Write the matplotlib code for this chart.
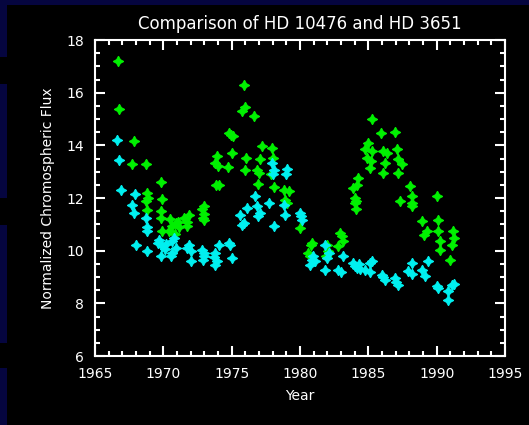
import matplotlib
matplotlib.use('Agg')
from matplotlib import pyplot as plt
from matplotlib.patches import Rectangle
from matplotlib.ticker import MultipleLocator

# HD 10476 / HD 3651
yr_green = [1966.65, 1966.77, 1967.85, 1967.68, 1968.7, 1968.8, 1968.85, 1968.8, 1968.75,
            1969.85, 1969.88, 1969.8, 1969.8, 1969.92,
            1970.5, 1970.6, 1970.45, 1970.9, 1970.85, 1971.1, 1971.15,
            1971.5, 1971.75, 1971.9, 1971.7,
            1972.8, 1972.95, 1973.0, 1973.0, 1972.9,
            1973.9, 1973.75, 1974.0, 1973.85, 1974.05,
            1974.78, 1975.1, 1974.95, 1974.7, 1975.03,
            1975.88, 1976.0, 1975.76, 1976.66, 1976.07, 1976.0,
            1977.2, 1977.1, 1976.85, 1977.0, 1976.95,
            1977.95, 1978.03, 1977.85, 1978.1,
            1978.8, 1979.16, 1978.92, 1979.04,
            1980.0, 1980.87, 1980.8, 1980.6, 1980.75,
            1981.97, 1982.08, 1981.9,
            1982.93, 1983.1, 1983.18, 1982.8,
            1984.27, 1984.15, 1983.9, 1984.03, 1984.1, 1984.03, 1984.1,
            1985.25, 1985.0, 1984.76, 1984.88, 1985.12, 1985.3, 1985.2,
            1985.93, 1986.1, 1986.4, 1986.22, 1986.1,
            1986.95, 1987.07, 1987.2, 1987.44, 1987.2,
            1987.31, 1988.04, 1988.17, 1988.2, 1988.17,
            1988.9, 1989.26, 1989.1,
            1989.99, 1990.1, 1990.1, 1990.23, 1990.23,
            1991.2, 1991.3, 1991.1, 1990.97]
flux_green = [17.19, 15.37, 14.16, 13.28, 13.28, 12.2, 12.0, 11.56, 11.9,
              12.6, 11.95, 11.5, 11.25, 10.75,
              11.2, 10.95, 10.75, 11.05, 10.65, 11.1, 10.9,
              11.25, 11.1, 11.35, 10.95,
              11.6, 11.7, 11.4, 11.15, 11.25,
              13.6, 13.34, 13.2, 12.5, 12.5,
              14.48, 14.35, 14.4, 13.17, 13.72,
              16.3, 15.44, 15.31, 15.12, 13.53, 13.05,
              13.97, 13.5, 13.05, 12.95, 12.55,
              13.89, 13.53, 12.9, 12.4,
              12.3, 12.26, 11.94, 11.82,
              10.86, 10.3, 10.2, 9.9, 9.8,
              10.23, 10.0, 9.8,
              10.67, 10.55, 10.35, 10.16,
              12.77, 12.51, 12.38, 12.0, 11.9, 11.82, 11.6,
              15.01, 14.1, 13.85, 13.53, 13.15, 13.8, 13.4,
              14.48, 13.78, 13.7, 13.34, 12.96,
              14.52, 13.85, 13.47, 13.28, 12.96,
              11.88, 12.45, 12.07, 11.8, 11.69,
              11.12, 10.74, 10.6,
              12.07, 11.18, 10.74, 10.35, 10.04,
              10.74, 10.5, 10.23, 9.66]

yr_cyan = [1966.58, 1966.75, 1966.88, 1967.92, 1967.73, 1967.85, 1967.97,
           1968.7, 1968.77, 1968.82, 1968.82,
           1969.67, 1969.92, 1969.6, 1970.1, 1969.8, 1970.2,
           1970.65, 1970.9, 1970.6, 1970.75, 1970.55,
           1971.86, 1971.75, 1971.99, 1972.0,
           1972.84, 1972.96, 1973.0, 1972.9,
           1973.81, 1973.81, 1973.9, 1973.7,
           1974.05, 1974.78, 1974.9, 1975.03,
           1975.64, 1975.88, 1975.75,
           1976.12, 1976.73, 1976.85, 1977.1, 1976.95,
           1977.7, 1978.07, 1977.95, 1978.07, 1978.0,
           1979.04, 1978.95, 1978.8, 1978.92,
           1980.0, 1980.14, 1980.05,
           1980.87, 1981.1, 1980.75, 1980.95,
           1981.84, 1982.1, 1981.97, 1981.84,
           1983.18, 1982.8, 1983.0,
           1983.9, 1984.15, 1984.3, 1984.05, 1984.4,
           1985.12, 1984.76, 1985.1, 1985.25,
           1985.98, 1986.22, 1986.1,
           1986.95, 1987.2, 1987.05,
           1988.17, 1987.93, 1988.2,
           1988.9, 1989.4, 1989.14,
           1989.99, 1990.1,
           1991.1, 1990.85, 1990.85, 1991.3]
flux_cyan = [14.2, 13.44, 12.32, 12.17, 11.75, 11.44, 10.23,
             11.25, 10.88, 10.74, 9.97,
             10.42, 10.16, 10.3, 10.05, 9.78, 10.25,
             10.35, 10.1, 9.9, 10.5, 9.8,
             10.23, 10.1, 9.59, 10.0,
             10.04, 9.78, 9.9, 9.65,
             9.91, 9.47, 9.6, 9.75,
             10.23, 10.3, 10.2, 9.72,
             11.37, 11.05, 10.98,
             11.63, 12.07, 11.69, 11.44, 11.3,
             11.82, 10.93, 13.34, 13.05, 12.9,
             13.09, 12.9, 11.75, 11.37,
             11.44, 11.18, 11.3,
             9.66, 9.6, 9.47, 9.8,
             10.23, 9.9, 9.72, 9.28,
             9.78, 9.28, 9.2,
             9.53, 9.34, 9.5, 9.4, 9.3,
             9.53, 9.28, 9.2, 9.6,
             9.09, 8.9, 9.0,
             8.96, 8.7, 8.8,
             9.53, 9.21, 9.1,
             9.28, 9.59, 9.02,
             8.64, 8.6,
             8.7, 8.45, 8.13, 8.75]

W, H = 529, 425
f1 = plt.figure(figsize=(W / 100., H / 100.), dpi=100, facecolor='black')

# bordo blu scuro della slide
navy = '#05053f'
def box(x0, y0, x1, y1):
    f1.add_artist(Rectangle((x0 / W, 1 - y1 / H), (x1 - x0) / W, (y1 - y0) / H,
                            transform=f1.transFigure, color=navy, lw=0, zorder=0))
box(0, 0, W, 5)
box(0, 0, 7, 57)
box(0, 84, 7, 198)
box(0, 225, 7, 343)
box(0, 368, 7, 425)

ax1 = f1.add_axes([95. / W, 1 - 356. / H, 410. / W, 316. / H], facecolor='black')

ax1.plot(yr_green, flux_green, ls='none', marker=(4, 1, 0), ms=7.5,
         color='#00f000', mec='#00f000', mew=0.8)
ax1.plot(yr_cyan, flux_cyan, ls='none', marker=(4, 1, 0), ms=7.5,
         color='#00f0f0', mec='#00f0f0', mew=0.8)

ax1.set_xlim((1965, 1995))
ax1.set_ylim((6, 18))
ax1.xaxis.set_major_locator(MultipleLocator(5))
ax1.xaxis.set_minor_locator(MultipleLocator(1))
ax1.yaxis.set_major_locator(MultipleLocator(2))
ax1.yaxis.set_minor_locator(MultipleLocator(0.5))

ax1.tick_params(which='both', direction='in', top=True, right=True,
                colors='white', width=1.5, labelsize=10, labelcolor='white')
ax1.tick_params(which='major', length=7, pad=8)
ax1.tick_params(which='minor', length=3.5)
for s in ax1.spines.values():
    s.set_color('white')
    s.set_linewidth(1.5)

ax1.set_xlabel('Year', color='white', fontsize=10, labelpad=6)
ax1.set_ylabel('Normalized Chromospheric Flux', color='white', fontsize=10, labelpad=8)
ax1.set_title('Comparison of HD 10476 and HD 3651', color='white', fontsize=12, pad=8)

f1.savefig('out.png', dpi=100, facecolor='black')
